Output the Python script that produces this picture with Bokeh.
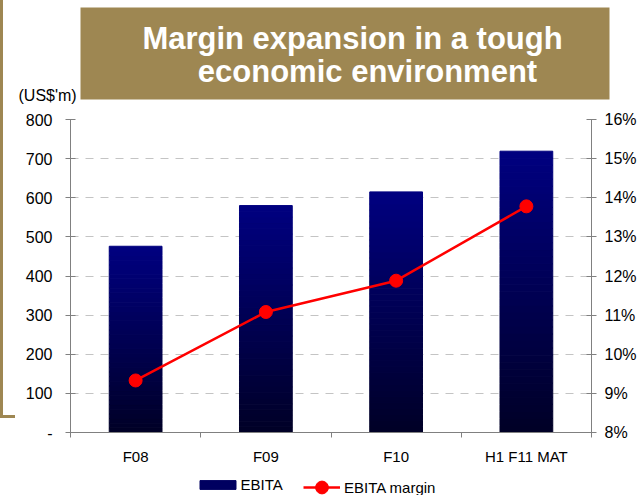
from bokeh.plotting import figure
from bokeh.models import (Range1d, LinearAxis, FixedTicker, BoxAnnotation, Label,
                          Legend, LegendItem, Spacer)
from bokeh.layouts import column, row
from bokeh.embed import file_html
from bokeh.resources import INLINE

# ---------------- data ----------------
categories = ["F08", "F09", "F10", "H1 F11 MAT"]
ebita = [476, 580, 615, 719]                 # US$'m
ebita_margin = [9.33, 11.08, 11.88, 13.78]   # %
left_ticks = [0, 100, 200, 300, 400, 500, 600, 700, 800]
left_tick_labels = ["-", "100", "200", "300", "400", "500", "600", "700", "800"]
right_ticks = [8, 9, 10, 11, 12, 13, 14, 15, 16]
right_tick_labels = ["8%", "9%", "10%", "11%", "12%", "13%", "14%", "15%", "16%"]
title_lines = ["Margin expansion in a tough", "economic environment"]
unit_label = "(US$'m)"
series_names = ["EBITA", "EBITA margin"]

FONT = "Liberation Sans"
BROWN = "#9e8752"
GREY = "#808080"
NAVY_TOP, NAVY_BOTTOM = 128, 38

STRIP_W = 15
W = 639 - STRIP_W
TOP_H, MAIN_H, LEG_H = 109, 361, 25


def blank(w, h, xr, yr):
    f = figure(width=w, height=h, output_backend="svg", toolbar_location=None,
               x_range=xr, y_range=yr,
               x_axis_type=None, y_axis_type=None, min_border=0,
               outline_line_color=None, background_fill_color="white",
               border_fill_color="white")
    f.grid.visible = False
    return f


# ---------------- left decorative rule ----------------
left_rule = column(Spacer(width=3, height=415, styles={"background-color": BROWN}),
                   Spacer(width=STRIP_W, height=3, styles={"background-color": BROWN}),
                   align="start")

# ---------------- header (title box, unit label) ----------------
T = blank(W, TOP_H, Range1d(0, W), Range1d(TOP_H, 0))
T.add_layout(BoxAnnotation(left=65, right=594, top=7, bottom=99, fill_color=BROWN,
                           fill_alpha=1, line_color=None))
for txt, xx, yy in zip(title_lines, [337, 352], [38, 71]):
    T.add_layout(Label(x=xx, y=yy, text=txt, text_font=FONT, text_font_size="31px",
                       text_font_style="bold", text_color="white",
                       text_align="center", text_baseline="alphabetic"))
T.add_layout(Label(x=3, y=95, text=unit_label, text_font=FONT, text_font_size="16px",
                   text_color="black", text_align="left", text_baseline="middle"))

# ---------------- main chart ----------------
p = figure(width=W, height=MAIN_H, output_backend="svg", toolbar_location=None,
           x_range=Range1d(0, len(categories)), y_range=Range1d(left_ticks[0], left_ticks[-1]),
           min_border_left=55, min_border_right=47, min_border_top=10, min_border_bottom=38,
           outline_line_color=None, background_fill_color="white", border_fill_color="white")
p.extra_y_ranges = {"pct": Range1d(right_ticks[0], right_ticks[-1])}

xpos = [i + 0.5 for i in range(len(categories))]

p.xgrid.visible = False
p.ygrid.grid_line_color = "#c4c4c4"
p.ygrid.grid_line_dash = "8 7"
p.ygrid.grid_line_width = 1

N = 40
BAR_W = 0.405
for k in range(N):
    t = (k + 0.5) / N
    b = int(round(NAVY_BOTTOM + (NAVY_TOP - NAVY_BOTTOM) * t))
    col = "#%02x%02x%02x" % (0, 0, b)
    p.vbar(x=xpos, width=BAR_W,
           bottom=[v * k / N for v in ebita],
           top=[v * (k + 1) / N for v in ebita],
           fill_color=col, line_color=col, line_width=1)

p.line(xpos, ebita_margin, y_range_name="pct", line_color="#ff0000", line_width=2.5)
p.scatter(xpos, ebita_margin, y_range_name="pct", size=13,
          fill_color="#ff0000", line_color="#ff0000")

xa = p.xaxis[0]
xa.ticker = FixedTicker(ticks=xpos, minor_ticks=list(range(len(categories) + 1)))
xa.major_label_overrides = {x: c for x, c in zip(xpos, categories)}
xa.major_tick_in = 0
xa.major_tick_out = 0
xa.minor_tick_in = 0
xa.minor_tick_out = 5
xa.minor_tick_line_color = GREY
xa.axis_line_color = GREY
xa.major_label_standoff = 10
xa.major_label_text_font = FONT
xa.major_label_text_font_size = "15px"
xa.major_label_text_color = "black"

ya = p.yaxis[0]
ya.ticker = FixedTicker(ticks=left_ticks)
ya.major_label_overrides = {t: l for t, l in zip(left_ticks, left_tick_labels)}
ya.major_tick_in = 5
ya.major_tick_out = 5
ya.minor_tick_line_color = None
ya.axis_line_color = GREY
ya.major_tick_line_color = GREY
ya.major_label_standoff = 13
ya.major_label_text_font = FONT
ya.major_label_text_font_size = "16px"
ya.major_label_text_color = "black"

ra = LinearAxis(y_range_name="pct", ticker=FixedTicker(ticks=right_ticks))
ra.major_label_overrides = {t: l for t, l in zip(right_ticks, right_tick_labels)}
ra.major_tick_in = 5
ra.major_tick_out = 5
ra.minor_tick_line_color = None
ra.axis_line_color = GREY
ra.major_tick_line_color = GREY
ra.major_label_standoff = 8
ra.major_label_text_font = FONT
ra.major_label_text_font_size = "16px"
ra.major_label_text_color = "black"
p.add_layout(ra, "right")

# ---------------- legend strip ----------------
# the series are re-drawn here outside the visible ranges, only to feed the legend
L = blank(W, LEG_H, Range1d(-1000, -1000 + W), Range1d(-1000, -1000 + LEG_H))
bar_proxy = L.vbar(x=xpos, top=ebita, width=BAR_W, fill_color="#000060", line_color="#000060")
line_proxy = L.line(xpos, ebita_margin, line_color="#ff0000", line_width=2.5)
dot_proxy = L.scatter(xpos, ebita_margin, fill_color="#ff0000", line_color="#ff0000")
leg1 = Legend(items=[LegendItem(label=series_names[0], renderers=[bar_proxy])],
              location=(179.5, 2.5), glyph_width=45, glyph_height=11, label_height=11,
              label_standoff=1, padding=0, margin=0, border_line_color=None,
              background_fill_alpha=0, label_text_font=FONT, label_text_font_size="15px",
              label_text_color="black")
leg2 = Legend(items=[LegendItem(label=series_names[1], renderers=[line_proxy, dot_proxy])],
              location=(288, -8), glyph_width=37, glyph_height=32, label_height=32,
              label_standoff=4, padding=0, margin=0, border_line_color=None,
              background_fill_alpha=0, label_text_font=FONT, label_text_font_size="15px",
              label_text_color="black")
L.add_layout(leg1)
L.add_layout(leg2)

# p is wrapped in its own row so that its borders are not shared with T and L
layout = row(left_rule, column(T, row(p), L))
open("out.html", "w").write(file_html(layout, INLINE))
